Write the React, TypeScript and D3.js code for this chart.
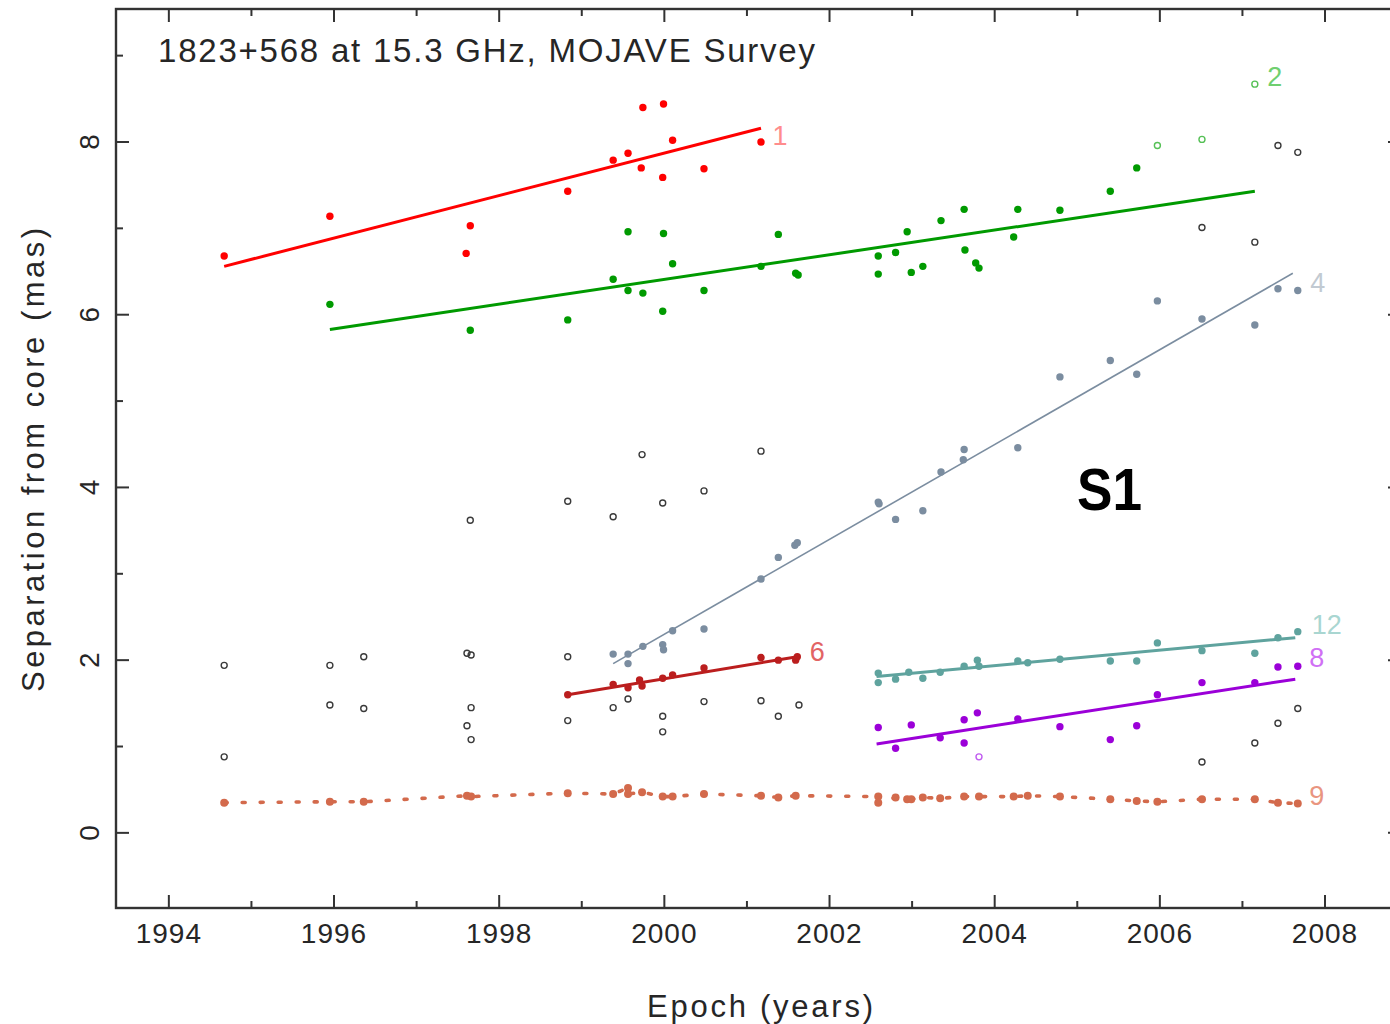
import React from "react";
import * as d3 from "d3";

// epochs in decimal years, separations in mas
const comp1 = [
  [1994.67, 6.68], [1995.95, 7.14], [1997.6, 6.71], [1997.65, 7.03], [1998.83, 7.43],
  [1999.38, 7.79], [1999.56, 7.87], [1999.72, 7.70], [1999.74, 8.40], [1999.98, 7.59],
  [1999.99, 8.44], [2000.1, 8.02], [2000.48, 7.69], [2001.17, 8.0],
];
const fit1 = [[1994.67, 6.56], [2001.17, 8.16]];

const comp2 = [
  [1995.95, 6.12], [1997.65, 5.82], [1998.83, 5.94], [1999.38, 6.41], [1999.56, 6.96],
  [1999.56, 6.28], [1999.74, 6.25], [1999.99, 6.94], [1999.98, 6.04], [2000.1, 6.59],
  [2000.48, 6.28], [2001.17, 6.56], [2001.38, 6.93], [2001.59, 6.48], [2001.62, 6.46],
  [2002.59, 6.68], [2002.59, 6.47], [2002.8, 6.72], [2002.94, 6.96], [2002.99, 6.49],
  [2003.13, 6.56], [2003.35, 7.09], [2003.63, 7.22], [2003.64, 6.75], [2003.77, 6.6],
  [2003.81, 6.54], [2004.23, 6.9], [2004.28, 7.22], [2004.79, 7.21], [2005.4, 7.43],
  [2005.72, 7.7],
];
const comp2open = [[2005.97, 7.96], [2006.51, 8.03], [2007.15, 8.67]];
const fit2 = [[1995.95, 5.83], [2007.15, 7.43]];

const comp4 = [
  [1999.38, 2.07], [1999.56, 2.07], [1999.56, 1.96], [1999.74, 2.16], [1999.98, 2.18],
  [1999.99, 2.12], [2000.1, 2.34], [2000.48, 2.36], [2001.17, 2.94], [2001.38, 3.19],
  [2001.58, 3.33], [2001.61, 3.36], [2002.59, 3.83], [2002.6, 3.81], [2002.8, 3.63],
  [2003.13, 3.73], [2003.35, 4.18], [2003.62, 4.32], [2003.63, 4.44], [2004.28, 4.46],
  [2004.79, 5.28], [2005.4, 5.47], [2005.72, 5.31], [2005.97, 6.16], [2006.51, 5.95],
  [2007.15, 5.88], [2007.43, 6.3], [2007.67, 6.28],
];
const fit4 = [[1999.38, 1.96], [2007.61, 6.48]];

const comp6 = [
  [1998.83, 1.6], [1999.38, 1.72], [1999.56, 1.68], [1999.7, 1.77], [1999.73, 1.7],
  [1999.98, 1.79], [2000.1, 1.83], [2000.48, 1.91], [2001.17, 2.03], [2001.38, 2.0],
  [2001.59, 2.0], [2001.61, 2.04],
];
const fit6 = [[1998.83, 1.6], [2001.61, 2.04]];

const comp12 = [
  [2002.59, 1.85], [2002.59, 1.74], [2002.8, 1.78], [2002.96, 1.86], [2003.13, 1.79],
  [2003.34, 1.86], [2003.63, 1.93], [2003.79, 2.0], [2003.81, 1.93], [2004.28, 1.99],
  [2004.4, 1.97], [2004.79, 2.01], [2005.4, 1.99], [2005.72, 1.99], [2005.97, 2.2],
  [2006.51, 2.11], [2007.15, 2.08], [2007.43, 2.26], [2007.67, 2.33],
];
const fit12 = [[2002.57, 1.81], [2007.64, 2.26]];

const comp8 = [
  [2002.59, 1.22], [2002.8, 0.98], [2002.99, 1.25], [2003.34, 1.1], [2003.63, 1.04],
  [2003.63, 1.31], [2003.79, 1.39], [2004.28, 1.32], [2004.79, 1.23], [2005.4, 1.08],
  [2005.72, 1.24], [2005.97, 1.6], [2006.51, 1.74], [2007.15, 1.74], [2007.43, 1.92],
  [2007.67, 1.93],
];
const comp8open = [[2003.81, 0.88]];
const fit8 = [[2002.57, 1.03], [2007.64, 1.78]];

const comp9 = [
  [1994.67, 0.35], [1995.95, 0.36], [1996.36, 0.36], [1997.61, 0.43], [1997.66, 0.42],
  [1998.83, 0.46], [1999.38, 0.45], [1999.56, 0.52], [1999.56, 0.45], [1999.73, 0.47],
  [1999.98, 0.42], [2000.1, 0.42], [2000.48, 0.45], [2001.17, 0.43], [2001.38, 0.41],
  [2001.59, 0.43], [2002.59, 0.42], [2002.59, 0.35], [2002.8, 0.41], [2002.94, 0.39],
  [2002.99, 0.39], [2003.13, 0.41], [2003.34, 0.4], [2003.63, 0.42], [2003.81, 0.42],
  [2004.23, 0.42], [2004.4, 0.43], [2004.79, 0.42], [2005.4, 0.39], [2005.72, 0.37],
  [2005.97, 0.36], [2006.51, 0.39], [2007.15, 0.39], [2007.43, 0.35], [2007.67, 0.34],
];

// components without a fit (open black circles)
const other = [
  [1994.67, 1.94], [1994.67, 0.88], [1995.95, 1.94], [1995.95, 1.48], [1996.36, 2.04],
  [1996.36, 1.44], [1997.61, 2.08], [1997.66, 2.06], [1997.66, 1.45], [1997.61, 1.24],
  [1997.66, 1.08], [1997.65, 3.62], [1998.83, 3.84], [1998.83, 2.04], [1998.83, 1.3],
  [1999.38, 3.66], [1999.38, 1.45], [1999.56, 1.55], [1999.73, 4.38], [1999.98, 3.82],
  [1999.98, 1.35], [1999.98, 1.17], [2000.48, 3.96], [2000.48, 1.52], [2001.17, 4.42],
  [2001.17, 1.53], [2001.38, 1.35], [2001.63, 1.48], [2006.51, 7.01], [2006.51, 0.82],
  [2007.15, 6.84], [2007.15, 1.04], [2007.43, 7.96], [2007.43, 1.27], [2007.67, 7.88],
  [2007.67, 1.44],
];

const compNames = ["1", "2", "4", "6", "12", "8", "9"];
const compColors = ["#ff0000", "#009a00", "#7b8da0", "#bb1e1e", "#5fa39e", "#9b00d8", "#d36a4c"];
const labelColors = ["#ff8c8c", "#6fcf6f", "#c2cad2", "#e26464", "#a9d6d1", "#d070f5", "#e99580"];
const labelAt = [
  [2001.31, 7.97], [2007.3, 8.65], [2007.82, 6.26], [2001.76, 1.99],
  [2007.84, 2.3], [2007.81, 1.92], [2007.81, 0.32],
];

const xMajor = [1994, 1996, 1998, 2000, 2002, 2004, 2006, 2008];
const xMinor = [1995, 1997, 1999, 2001, 2003, 2005, 2007];
const yMajor = [0, 2, 4, 6, 8];
const yMinor = [1, 3, 5, 7, 9];

const W = 1390, H = 1024;
const left = 116, right = 1401, top = 9, bottom = 908;

const x = d3.scaleLinear().domain([1993.36, 2008.92]).range([left, right]);
const y = d3.scaleLinear().domain([-0.87, 9.54]).range([bottom, top]);
const line = d3.line<number[]>().x(d => x(d[0])).y(d => y(d[1]));

const font = "'Liberation Sans', Arial, sans-serif";
const ink = "#262626";

const Dots = ({ pts, color, r = 3.7 }) => (
  <g fill={color}>
    {pts.map((d, i) => <circle key={i} cx={x(d[0])} cy={y(d[1])} r={r} />)}
  </g>
);
const Rings = ({ pts, color }) => (
  <g fill="none" stroke={color} strokeWidth={1.4}>
    {pts.map((d, i) => <circle key={i} cx={x(d[0])} cy={y(d[1])} r={3} />)}
  </g>
);

export default function App() {
  const fits = [fit1, fit2, fit4, fit6, fit12, fit8];
  const fitWidths = [3, 3, 1.6, 3, 3, 3];
  const comps = [comp1, comp2, comp4, comp6, comp12, comp8];
  const sorted9 = [...comp9].sort((a, b) => a[0] - b[0]);

  return (
    <div style={{ position: "absolute", left: 0, top: 0 }}>
      <svg width={W} height={H} style={{ display: "block", background: "#fff" }}>
        <rect x={0} y={0} width={W} height={H} fill="#fff" />

        {/* open circles for unfitted features */}
        <Rings pts={other} color="#3a3a3a" />

        {/* component 9, dotted */}
        <path d={line(sorted9) || ""} fill="none" stroke={compColors[6]} strokeWidth={3.6}
          strokeDasharray="3 15" strokeLinecap="round" />
        <Dots pts={comp9} color={compColors[6]} r={4} />

        {fits.map((f, i) => (
          <path key={i} d={line(f) || ""} fill="none" stroke={compColors[i]} strokeWidth={fitWidths[i]} />
        ))}
        {comps.map((c, i) => <Dots key={i} pts={c} color={compColors[i]} />)}
        <Rings pts={comp2open} color="#55c055" />
        <Rings pts={comp8open} color="#c05cf0" />

        {compNames.map((n, i) => (
          <text key={n} x={x(labelAt[i][0])} y={y(labelAt[i][1])} fill={labelColors[i]}
            fontFamily={font} fontSize={27}>{n}</text>
        ))}

        {/* frame */}
        <rect x={left} y={top} width={right - left} height={bottom - top} fill="none" stroke="#333" strokeWidth={2.4} />
        <g stroke="#333" strokeWidth={2}>
          {xMajor.map(t => (
            <g key={t}>
              <line x1={x(t)} x2={x(t)} y1={bottom} y2={bottom - 13} />
              <line x1={x(t)} x2={x(t)} y1={top} y2={top + 13} />
            </g>
          ))}
          {xMinor.map(t => (
            <g key={t}>
              <line x1={x(t)} x2={x(t)} y1={bottom} y2={bottom - 7} />
              <line x1={x(t)} x2={x(t)} y1={top} y2={top + 7} />
            </g>
          ))}
          {yMajor.map(t => (
            <g key={t}>
              <line x1={left} x2={left + 13} y1={y(t)} y2={y(t)} />
              <line x1={right} x2={right - 13} y1={y(t)} y2={y(t)} />
            </g>
          ))}
          {yMinor.map(t => (
            <g key={t}>
              <line x1={left} x2={left + 7} y1={y(t)} y2={y(t)} />
              <line x1={right} x2={right - 7} y1={y(t)} y2={y(t)} />
            </g>
          ))}
        </g>

        {/* tick labels */}
        {xMajor.map(t => (
          <text key={t} x={x(t)} y={943} textAnchor="middle" fill={ink} fontFamily={font}
            fontSize={28} letterSpacing={1}>{t}</text>
        ))}
        {yMajor.map(t => (
          <text key={t} transform={`translate(99,${y(t)}) rotate(-90)`} textAnchor="middle"
            fill={ink} fontFamily={font} fontSize={28}>{t}</text>
        ))}

        <text x={158} y={62} fill={ink} fontFamily={font} fontSize={33}
          textLength={657} lengthAdjust="spacing">1823+568 at 15.3 GHz, MOJAVE Survey</text>
        <text x={647} y={1017} fill={ink} fontFamily={font} fontSize={31}
          textLength={226} lengthAdjust="spacing">Epoch (years)</text>
        <text transform="translate(44,692) rotate(-90)" fill={ink} fontFamily={font} fontSize={31}
          textLength={464} lengthAdjust="spacing">Separation from core (mas)</text>

        <text x={1077} y={510} fill="#000" fontFamily="Arial, 'Liberation Sans', sans-serif" fontWeight="bold" fontSize={60}
          textLength={65} lengthAdjust="spacingAndGlyphs">S1</text>
      </svg>
    </div>
  );
}
